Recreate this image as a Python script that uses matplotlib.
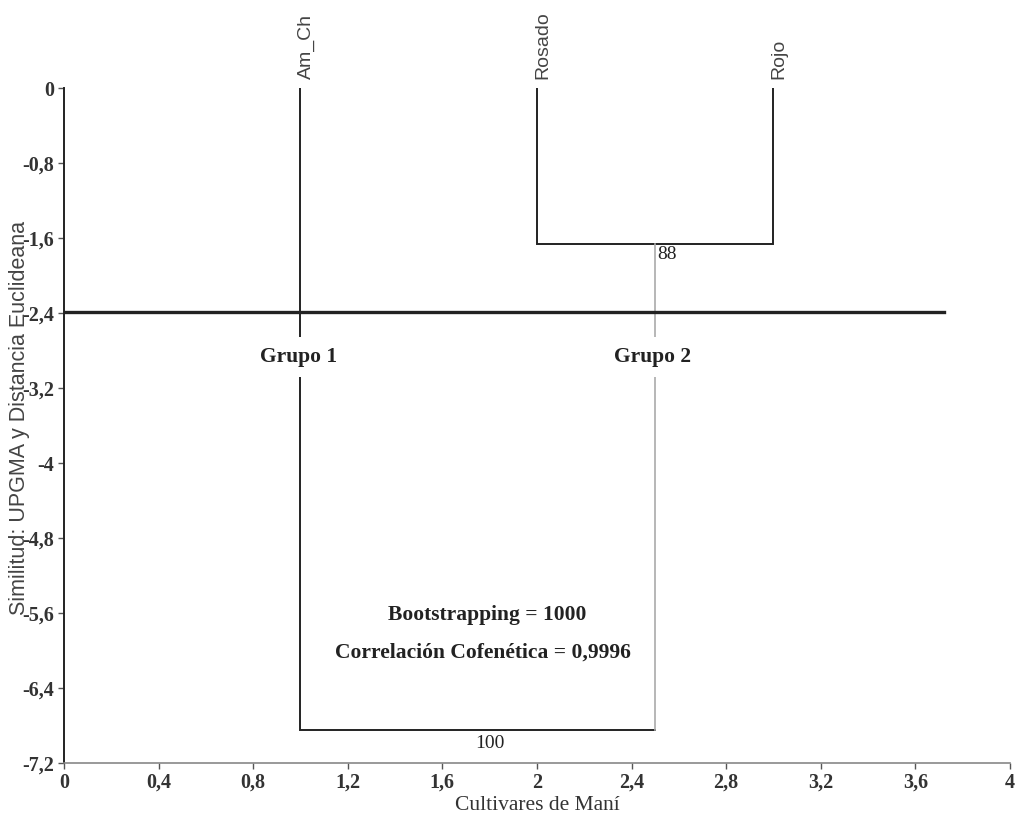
import matplotlib
matplotlib.use("Agg")
import matplotlib.pyplot as plt
from matplotlib.ticker import FuncFormatter

# data
leaves = ["Am_Ch", "Rosado", "Rojo"]
leaf_x = [1, 2, 3]
merge_heights = [-1.66, -6.85]   # Rosado+Rojo, then with Am_Ch
bootstrap = [88, 100]
cut_height = -2.39
groups = ["Grupo 1", "Grupo 2"]

x_ticks = [0, 0.4, 0.8, 1.2, 1.6, 2, 2.4, 2.8, 3.2, 3.6, 4]
y_ticks = [0, -0.8, -1.6, -2.4, -3.2, -4, -4.8, -5.6, -6.4, -7.2]

DARK = "#222222"
GRAY = "#aaaaaa"
serif = "Liberation Serif"
sans = "Liberation Sans"

fig = plt.figure(figsize=(10.17, 8.18), dpi=100)
ax = fig.add_axes([0.0629, 0.0672, 0.9301, 0.8252])

# cluster Rosado + Rojo
x2, x3 = leaf_x[1], leaf_x[2]
node2 = (x2 + x3) / 2
ax.plot([x2, x2, x3, x3], [0, merge_heights[0], merge_heights[0], 0],
        color=DARK, lw=1.4, solid_joinstyle="miter")
# root join
x1 = leaf_x[0]
ax.plot([x1, x1, node2], [0, merge_heights[1], merge_heights[1]],
        color=DARK, lw=1.4, solid_joinstyle="miter")
ax.plot([node2, node2], [merge_heights[0], merge_heights[1]], color=GRAY, lw=1.2)

# cut line
ax.plot([0, 3.72], [cut_height, cut_height], color=DARK, lw=2.4)

# leaf labels
for name, x in zip(leaves, leaf_x):
    ax.text(x + 0.025, 0.1, name, rotation=90, ha="center", va="bottom",
            fontsize=14, family=sans, color="#444444")

# bootstrap values
ax.text(node2 + 0.05, merge_heights[0] - 0.12, str(bootstrap[0]), ha="center", va="center",
        fontsize=14, family=serif, color=DARK)
ax.text((x1 + node2) / 2 + 0.05, merge_heights[1] - 0.14, str(bootstrap[1]), ha="center",
        va="center", fontsize=14, family=serif, color=DARK)

# group labels (white box hides the branch behind)
for g, x in zip(groups, [x1, node2]):
    ax.text(x - 0.01, -2.87, g, ha="center", va="center", fontsize=15.5, family=serif,
            weight="bold", color=DARK,
            bbox=dict(facecolor="white", edgecolor="none", pad=7))

ax.text(1.79, -5.62, "Bootstrapping = 1000", ha="center", va="center", fontsize=15.5,
        family=serif, weight="bold", color=DARK)
ax.text(1.77, -6.02, "Correlación Cofenética = 0,9996", ha="center", va="center",
        fontsize=15.5, family=serif, weight="bold", color=DARK)

ax.set_xlim(0, 4)
ax.set_ylim(-7.2, 0)
ax.set_xticks(x_ticks)
ax.set_yticks(y_ticks)
fmt = FuncFormatter(lambda v, p: ("%g" % v).replace(".", ","))
ax.xaxis.set_major_formatter(fmt)
ax.yaxis.set_major_formatter(fmt)
for lab in ax.get_xticklabels() + ax.get_yticklabels():
    lab.set_family(serif)
    lab.set_fontsize(14.5)
    lab.set_weight("bold")
    lab.set_color("#333333")
ax.tick_params(axis="both", length=4, width=1, color="#555555", pad=3)

for s in ["top", "right"]:
    ax.spines[s].set_visible(False)
ax.spines["left"].set_color(DARK)
ax.spines["left"].set_linewidth(1.4)
ax.spines["bottom"].set_color("#888888")
ax.spines["bottom"].set_linewidth(1.2)

ax.set_xlabel("Cultivares de Maní", family=serif, fontsize=15.5, color="#333333", labelpad=2)
fig.text(0.019, 1 - 418 / 818, "Similitud: UPGMA y Distancia Euclideana", rotation=90,
         ha="center", va="center", fontsize=15.5, family=sans, color="#444444")

fig.savefig("out.png", dpi=100)
